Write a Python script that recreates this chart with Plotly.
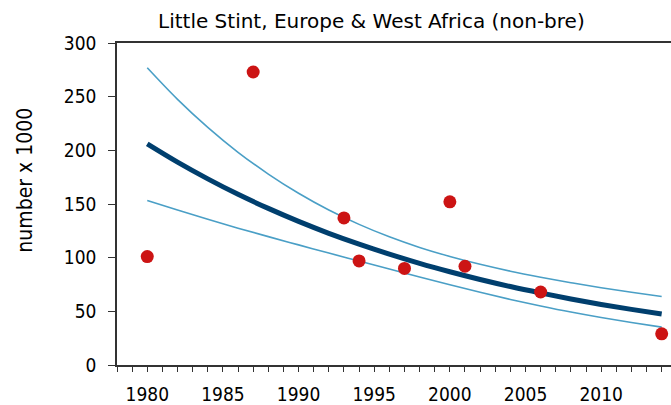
import plotly.graph_objects as go

# Observed counts (number x 1000)
obs_years = [1980, 1987, 1993, 1994, 1997, 2000, 2001, 2006, 2014]
obs_values = [101, 273, 137, 97, 90, 152, 92, 68, 29]

# Trend curve and confidence band
trend_years = [1980, 1982, 1984, 1986, 1988, 1990, 1992, 1994, 1996,
               1998, 2000, 2002, 2004, 2006, 2008, 2010, 2012, 2014]
trend_mid = [206, 189, 173.4, 159, 145.9, 133.8, 122.7, 112.6, 103.3,
             94.7, 86.9, 79.7, 73.1, 67.1, 61.5, 56.4, 51.8, 47.5]
trend_upper = [276.9, 247.5, 221.4, 198.2, 177.9, 160.0, 144.4, 131.0, 119.4,
               109.5, 101.1, 93.8, 87.4, 81.8, 76.7, 72.0, 67.8, 63.8]
trend_lower = [153.3, 144.4, 135.8, 127.5, 119.6, 111.9, 104.3, 96.8, 89.4,
               81.9, 74.7, 67.7, 61.1, 55.0, 49.3, 44.2, 39.6, 35.3]

x_tickvals = [1980, 1985, 1990, 1995, 2000, 2005, 2010]
y_tickvals = [0, 50, 100, 150, 200, 250, 300]

title_text = "Little Stint, Europe & West Africa (non-bre)"
y_title = "number x 1000"

FONT = "DejaVu Sans Condensed, DejaVu Sans, sans-serif"
TITLE_FONT = "DejaVu Sans, sans-serif"
LIGHT = "#4a9fc6"
DARK = "#003f6e"
RED = "#cc1414"
AXIS = "#333333"

W, H = 671, 405
ML, MR, MT, MB = 117, 0, 43, 38
pw = W - ML - MR
ph = H - MT - MB

fig = go.Figure()
fig.add_trace(go.Scatter(x=trend_years, y=trend_upper, mode="lines",
                         line=dict(color=LIGHT, width=1.6, shape="spline"),
                         showlegend=False, hoverinfo="skip"))
fig.add_trace(go.Scatter(x=trend_years, y=trend_lower, mode="lines",
                         line=dict(color=LIGHT, width=1.6, shape="spline"),
                         showlegend=False, hoverinfo="skip"))
fig.add_trace(go.Scatter(x=trend_years, y=trend_mid, mode="lines",
                         line=dict(color=DARK, width=5, shape="spline"),
                         showlegend=False))
fig.add_trace(go.Scatter(x=obs_years, y=obs_values, mode="markers",
                         marker=dict(color=RED, size=13, line=dict(width=0)),
                         cliponaxis=False, showlegend=False))

px_per_year = 15.13
x0 = 1978
x1 = x0 + pw / px_per_year

fig.update_layout(
    width=W, height=H,
    margin=dict(l=ML, r=MR, t=MT, b=MB),
    paper_bgcolor="white", plot_bgcolor="white",
    font=dict(family=FONT, size=19, color="#000000"),
    xaxis=dict(range=[x0, x1], tickvals=x_tickvals, ticks="outside",
               ticklen=5, tickwidth=1.3, tickcolor=AXIS,
               showline=True, linecolor=AXIS, linewidth=1.5, mirror=True,
               showgrid=False, zeroline=False, ticklabelstandoff=6,
               minor=dict(dtick=1, tick0=1978, ticks="outside", ticklen=5,
                          tickwidth=1.3, tickcolor=AXIS, showgrid=False)),
    yaxis=dict(range=[0, 300], tickvals=y_tickvals, ticks="outside",
               ticklen=7, tickwidth=1.3, tickcolor=AXIS,
               showline=True, linecolor=AXIS, linewidth=1.5, mirror=False,
               showgrid=False, zeroline=False, ticklabelstandoff=8),
    annotations=[
        dict(text=title_text, xref="paper", yref="paper",
             x=(371 - ML) / pw, y=(H - MB - 20.5) / ph,
             xanchor="center", yanchor="middle", showarrow=False,
             font=dict(family=TITLE_FONT, size=20, color="#000000")),
        dict(text=y_title, xref="paper", yref="paper",
             x=(25 - ML) / pw, y=(H - MB - 181.5) / ph, textangle=-90,
             xanchor="center", yanchor="middle", showarrow=False,
             font=dict(family=FONT, size=21, color="#000000")),
    ],
)

fig.write_html("out.html",
               config={"displayModeBar": False},
               post_script="document.body.style.margin='0';document.body.style.overflow='hidden';")
